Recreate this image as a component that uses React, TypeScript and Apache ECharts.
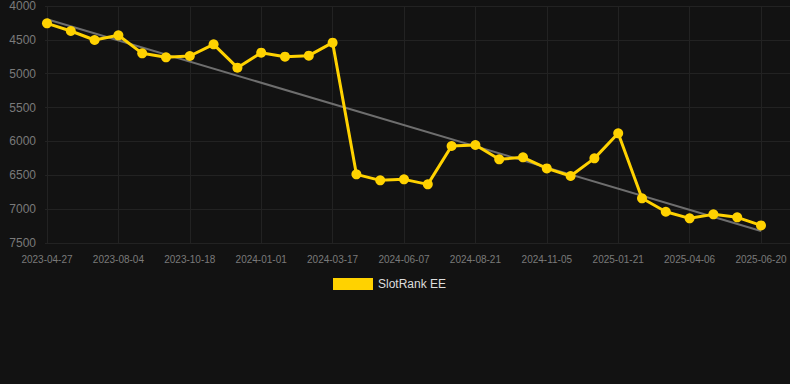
import React, { useEffect, useRef } from "react";
import * as echarts from "echarts";

const categories: string[] = [
  "2023-04-27", "2023-05-30", "2023-07-02", "2023-08-04", "2023-08-29", "2023-09-23",
  "2023-10-18", "2023-11-12", "2023-12-07", "2024-01-01", "2024-01-26", "2024-02-21",
  "2024-03-17", "2024-04-13", "2024-05-10", "2024-06-07", "2024-07-02", "2024-07-27",
  "2024-08-21", "2024-09-15", "2024-10-11", "2024-11-05", "2024-11-30", "2024-12-26",
  "2025-01-21", "2025-02-14", "2025-03-12", "2025-04-06", "2025-05-01", "2025-05-26",
  "2025-06-20",
];

const rankValues: number[] = [
  4256, 4369, 4502, 4433, 4699, 4758, 4738, 4566, 4911, 4689, 4748, 4733, 4541,
  6486, 6575, 6560, 6634, 6068, 6053, 6264, 6235, 6398, 6511, 6250, 5880,
  6840, 7038, 7136, 7077, 7121, 7240,
];

const trendStart = 4195;
const trendEnd = 7323;

const yTicks = { min: 4000, max: 7500, interval: 500 };

export default function App() {
  const ref = useRef<HTMLDivElement>(null);

  useEffect(() => {
    document.body.style.margin = "0";
    document.body.style.background = "#121212";
    if (!ref.current) return;
    const chart = echarts.init(ref.current, undefined, { renderer: "svg" });
    const trendData = categories.map((_, i) =>
      i === 0 ? trendStart : i === categories.length - 1 ? trendEnd : null
    );
    chart.setOption({
      animation: false,
      backgroundColor: "#121212",
      textStyle: { fontFamily: "Arial, Liberation Sans, sans-serif" },
      legend: {
        data: [{ name: "SlotRank EE" }],
        top: 278,
        left: 333,
        padding: 0,
        itemWidth: 40,
        itemHeight: 12,
        itemGap: 10,
        textStyle: { color: "#dddddd", fontSize: 12 },
        icon: "rect",
      },
      grid: [
        { left: 47, right: 29, top: 6, bottom: 141, containLabel: false },
        { left: 45, right: 0, top: 6, bottom: 141, containLabel: false },
      ],
      xAxis: [
        {
          type: "category",
          gridIndex: 0,
          data: categories,
          boundaryGap: false,
          axisLine: { show: false },
          axisTick: { show: false },
          axisLabel: {
            interval: 2,
            color: "#7a7a7a",
            fontSize: 10,
            margin: 11,
          },
          splitLine: { show: true, interval: 2, lineStyle: { color: "#222222", width: 1 } },
        },
        {
          type: "category",
          gridIndex: 1,
          data: categories,
          show: false,
        },
      ],
      yAxis: [
        {
          type: "value",
          gridIndex: 0,
          inverse: true,
          min: yTicks.min,
          max: yTicks.max,
          interval: yTicks.interval,
          axisLine: { show: false },
          axisTick: { show: false },
          axisLabel: {
            color: "#7a7a7a",
            fontSize: 12,
            margin: 11,
            formatter: (v: number) => String(v),
          },
          splitLine: { show: false },
        },
        {
          type: "value",
          gridIndex: 1,
          inverse: true,
          min: yTicks.min,
          max: yTicks.max,
          interval: yTicks.interval,
          axisLine: { show: false },
          axisTick: { show: false },
          axisLabel: { show: false },
          splitLine: { show: true, lineStyle: { color: "#222222", width: 1 } },
          z: 0,
        },
      ],
      series: [
        {
          name: "Trend",
          type: "line",
          xAxisIndex: 0,
          yAxisIndex: 0,
          data: trendData,
          connectNulls: true,
          showSymbol: false,
          symbol: "none",
          lineStyle: { color: "#6e6e6e", width: 2 },
          z: 2,
          silent: true,
        },
        {
          name: "SlotRank EE",
          type: "line",
          xAxisIndex: 0,
          yAxisIndex: 0,
          data: rankValues,
          symbol: "circle",
          symbolSize: 10,
          itemStyle: { color: "#ffd200" },
          lineStyle: { color: "#ffd200", width: 3 },
          z: 3,
        },
      ],
    });
    return () => chart.dispose();
  }, []);

  return <div ref={ref} style={{ width: 790, height: 384, background: "#121212" }} />;
}
